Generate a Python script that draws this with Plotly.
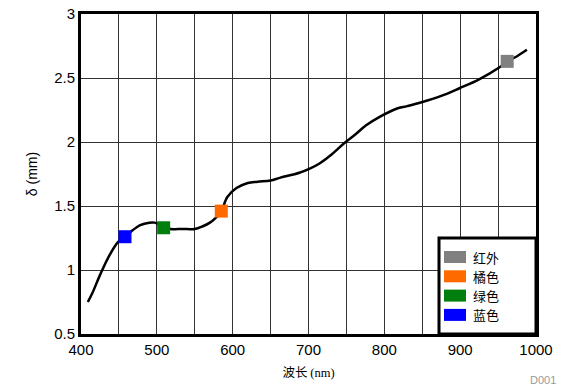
import plotly.graph_objects as go

# curve data (wavelength nm, delta mm)
curve_x = [409, 415, 425, 438, 449, 458, 468, 478, 490, 497, 509, 518, 528, 540, 550, 560, 570, 578, 585, 593, 605, 620, 633, 650, 662, 688, 701, 714, 730, 747, 762, 776, 795, 816, 830, 849, 875, 899, 925, 951, 962, 975, 988]
curve_y = [0.75, 0.82, 0.96, 1.12, 1.22, 1.26, 1.31, 1.35, 1.37, 1.37, 1.34, 1.32, 1.32, 1.32, 1.32, 1.34, 1.37, 1.41, 1.46, 1.57, 1.64, 1.68, 1.69, 1.70, 1.72, 1.76, 1.79, 1.83, 1.90, 1.99, 2.06, 2.13, 2.20, 2.26, 2.28, 2.31, 2.36, 2.42, 2.49, 2.58, 2.63, 2.67, 2.72]

names = ["红外", "橘色", "绿色", "蓝色"]
marker_x = [962, 585, 509, 458]
marker_y = [2.63, 1.46, 1.33, 1.26]
colors = ["#808080", "#FF6A00", "#007F0E", "#0000FF"]

fig = go.Figure()
fig.add_trace(go.Scatter(x=curve_x, y=curve_y, mode="lines",
                         line=dict(color="black", width=2.5, shape="spline"), showlegend=False))
for n, mx, my, c in zip(names, marker_x, marker_y, colors):
    fig.add_trace(go.Scatter(x=[mx], y=[my], mode="markers", name=n, showlegend=False,
                             marker=dict(symbol="square", size=13, color=c)))

axis_common = dict(showline=True, linewidth=3, linecolor="black", mirror=True,
                   showgrid=True, gridcolor="#333333", gridwidth=1, zeroline=False,
                   ticks="", ticklabeloverflow="allow", automargin=False,
                   tickfont=dict(family="Liberation Sans, Arial", size=15, color="black"))

fig.update_xaxes(range=[400, 1000], dtick=100, tick0=400,
                 minor=dict(dtick=50, showgrid=True, gridcolor="#333333", gridwidth=1),
                 title=dict(text="波长 <span style='font-family:Liberation Serif'>(nm)</span>",
                            font=dict(family="Noto Sans CJK SC", size=12.5, color="black"), standoff=12),
                 **axis_common)
fig.update_yaxes(range=[0.5, 3], dtick=0.5, tick0=0.5,
                 title=dict(text="δ (mm)", font=dict(family="Liberation Sans, Arial", size=14, color="black"), standoff=14),
                 **axis_common)

# manual legend (plot area: 455 x 320 px, bottom at window y=334)
PW, PH = 455.0, 320.0
shapes = [dict(type="rect", xref="paper", yref="paper", x0=(439 - 81) / PW, x1=1.0, y0=0.0, y1=(334 - 238) / PH,
               fillcolor="white", line=dict(color="black", width=3), layer="above")]
annotations = []
for i, (n, c) in enumerate(zip(names, colors)):
    top = 251 + 19.3 * i
    shapes.append(dict(type="rect", xref="paper", yref="paper",
                       x0=(444 - 81) / PW, x1=(466 - 81) / PW,
                       y0=(334 - (top + 12)) / PH, y1=(334 - top) / PH,
                       fillcolor=c, line=dict(width=0), layer="above"))
    annotations.append(dict(text=n, xref="paper", yref="paper", x=(471 - 81) / PW, y=(334 - (top + 6)) / PH,
                            xanchor="left", yanchor="middle", showarrow=False,
                            font=dict(family="Noto Sans CJK SC", size=13, color="black")))

annotations.append(dict(text="D001", xref="paper", yref="paper", x=1.0, y=0.0, xanchor="right", yanchor="middle",
                        xshift=22, yshift=-46, showarrow=False,
                        font=dict(family="Liberation Sans, Arial", size=11, color="#999999")))

fig.update_layout(
    width=558, height=381,
    margin=dict(l=73, r=30, t=6, b=55),
    plot_bgcolor="white", paper_bgcolor="white",
    showlegend=False,
    shapes=shapes,
    annotations=annotations,
)

fig.write_html("out.html")
